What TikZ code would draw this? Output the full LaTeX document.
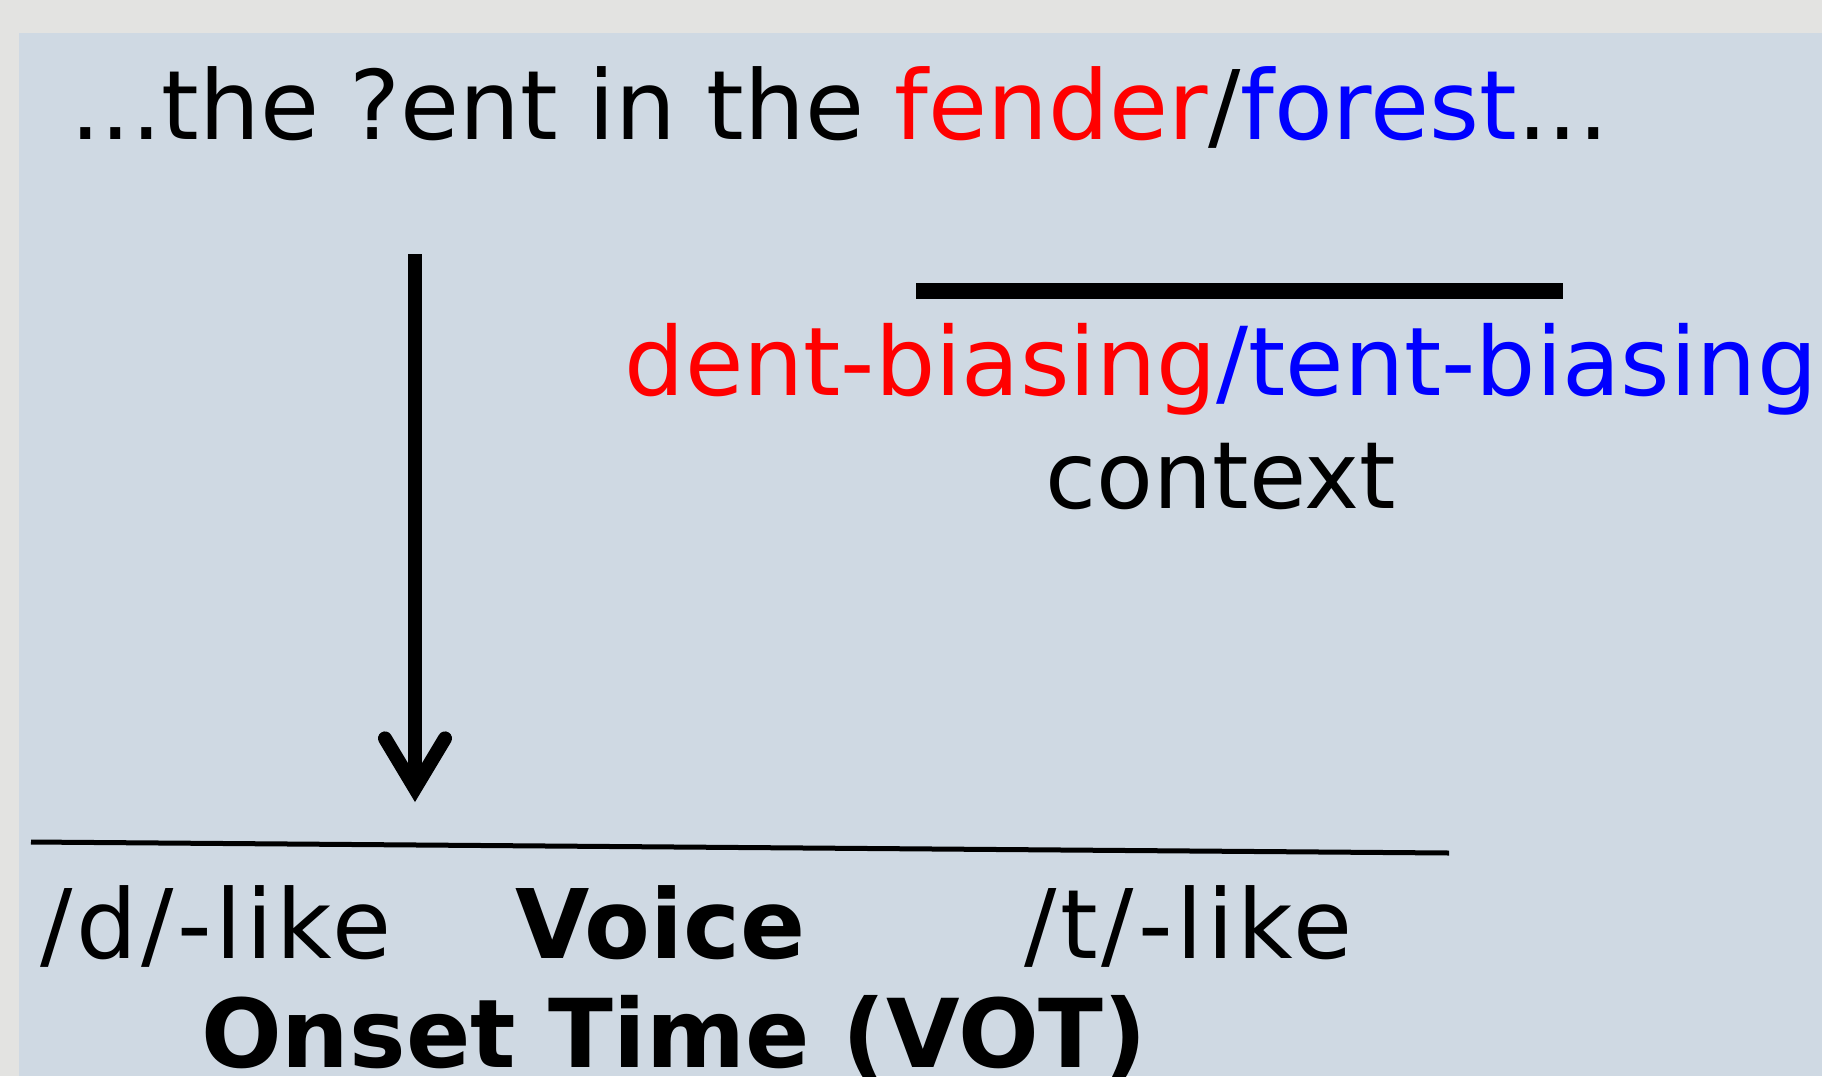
\documentclass[tikz,border=0pt]{standalone}
\usepackage{fontspec}
\setmainfont{DejaVu Sans}
\usetikzlibrary{arrows.meta}
\definecolor{pagegray}{RGB}{227,227,225}
\definecolor{panelblue}{RGB}{207,217,227}
\tikzset{
  lbl/.style={inner sep=0pt, font=\fontsize{96}{113}\selectfont},
  widelbl/.style={inner sep=0pt, font=\fontsize{96}{113}\selectfont\addfontfeature{LetterSpace=4}},
  boldlbl/.style={inner sep=0pt, font=\fontsize{96}{113}\selectfont\bfseries},
  shaft/.style={line width=14pt, -{Straight Barb[length=50pt, width=60pt, line cap=round, line join=miter]}},
}
\begin{document}
\begin{tikzpicture}[x=1pt, y=-1pt]
  \useasboundingbox (0,0) rectangle (1822,1076);
  % background and panel
  \fill[pagegray] (0,0) rectangle (1822,1076);
  \fill[panelblue] (19,33) rectangle (1822,1076);

  % sentence
  \node[lbl, anchor=base west] (sent) at (70,139)
    {...the ?ent in the \textcolor{red}{fender}/\textcolor{blue}{forest}...};

  % context labels
  \node[lbl, font=\fontsize{95}{113}\selectfont, anchor=base] (bias) at (1221,395)
    {\textcolor{red}{dent-biasing}\textcolor{blue}{/tent-biasing}};
  \node[lbl, font=\fontsize{93}{113}\selectfont, anchor=base] (ctx) at (1221,508) {context};

  % vertical arrow
  \coordinate (arrtop) at (415,254);
  \coordinate (arrtip) at (415,802);
  \draw[shaft] (arrtop) -- (arrtip);

  % thick bar over context
  \coordinate (barL) at (916,291);
  \coordinate (barR) at (1563,291);
  \draw[line width=16pt] (barL) -- (barR);

  % VOT axis
  \coordinate (axL) at (31,842);
  \coordinate (axR) at (1449,853);
  \draw[line width=5pt] (axL) -- (axR);

  % axis labels
  \node[widelbl, anchor=base west] (dlike) at (40,958) {/d/-like};
  \node[boldlbl, anchor=base west] (voice) at (515,958) {Voice};
  \node[widelbl, anchor=base west] (tlike) at (1024,958) {/t/-like};
  \node[boldlbl, font=\fontsize{95}{113}\selectfont\bfseries, anchor=base west] (onset) at (201,1067) {Onset Time (VOT)};
\end{tikzpicture}
\end{document}
